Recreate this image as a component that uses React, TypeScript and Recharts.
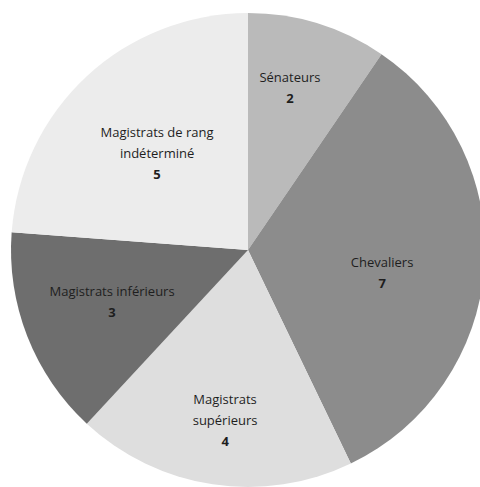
import React from 'react';
import { PieChart, Pie, Cell } from 'recharts';

// categories and counts, clockwise from 12 o'clock
const categories = ['Sénateurs', 'Chevaliers', 'Magistrats supérieurs', 'Magistrats inférieurs', 'Magistrats de rang indéterminé'];
const counts = [2, 7, 4, 3, 5];
// how each label is broken over lines
const labelLines = [
  ['Sénateurs'],
  ['Chevaliers'],
  ['Magistrats', 'supérieurs'],
  ['Magistrats inférieurs'],
  ['Magistrats de rang', 'indéterminé'],
];

const fills = ['#bababa', '#8c8c8c', '#dedede', '#6e6e6e', '#ececec'];
// label placement: distance from centre (fraction of radius) and clockwise nudge in degrees
const labelRadius = [0.71, 0.574, 0.724, 0.614, 0.561];
const labelNudge = [-2.7, 5.4, -0.9, 0.5, -0.3];

const data = categories.map((name, i) => ({ name, value: counts[i] }));

const RADIAN = Math.PI / 180;

const renderLabel = (props: any) => {
  const { cx, cy, midAngle, outerRadius, index, value } = props;
  const r = outerRadius * labelRadius[index];
  const a = midAngle - labelNudge[index];
  const x = cx + r * Math.cos(-a * RADIAN);
  const y = cy + r * Math.sin(-a * RADIAN);
  const lines = [...labelLines[index], String(value)];
  const lh = 21;
  const top = y - ((lines.length - 1) * lh) / 2;
  return (
    <text x={x} y={top} textAnchor="middle" dominantBaseline="central" fill="#1e1e1e"
      fontFamily="'Open Sans', sans-serif" fontSize={13}>
      {lines.map((l, i) => (
        <tspan key={i} x={x} dy={i === 0 ? 0 : lh}
          fontWeight={i === lines.length - 1 ? 700 : 400}>{l}</tspan>
      ))}
    </text>
  );
};

export default function App() {
  return (
    <div style={{ position: 'absolute', left: 0, top: 0, background: '#fff' }}>
      <PieChart width={480} height={487} margin={{ top: 0, right: 0, bottom: 0, left: 0 }}>
        <Pie
          data={data}
          dataKey="value"
          cx={248}
          cy={250}
          outerRadius={237}
          startAngle={90}
          endAngle={-270}
          stroke="none"
          labelLine={false}
          label={renderLabel}
          isAnimationActive={false}
        >
          {data.map((entry, i) => (
            <Cell key={`cell-${i}`} fill={fills[i]} />
          ))}
        </Pie>
      </PieChart>
    </div>
  );
}
